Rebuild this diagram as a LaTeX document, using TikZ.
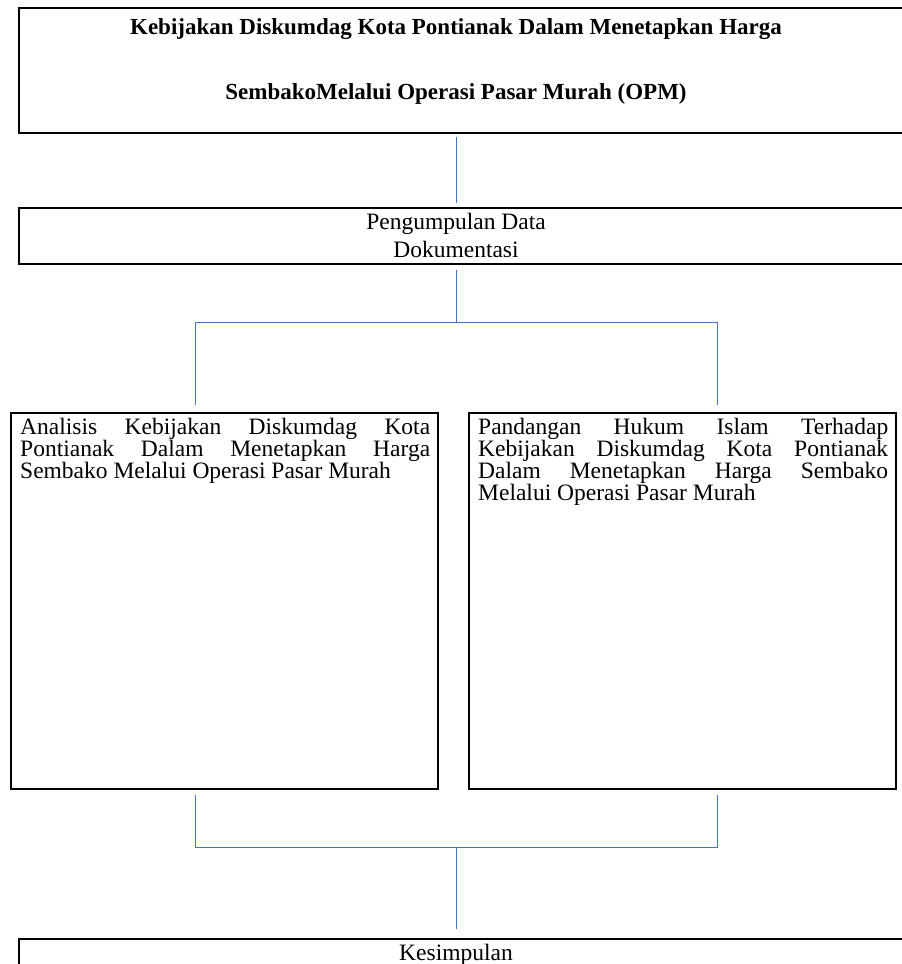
\documentclass[tikz,border=0pt]{standalone}
\usepackage{fontspec}
\setmainfont{Liberation Serif}
\usetikzlibrary{positioning}

\definecolor{linkblue}{RGB}{68,114,196}

\newcommand{\boxfont}{\fontsize{23.5}{28}\selectfont}
\newcommand{\titlefont}{\fontsize{23}{28}\selectfont\bfseries}
\newcommand{\panelfont}{\fontsize{23.5}{22}\selectfont}

\tikzset{
  frame/.style={draw, line width=1.7pt, inner sep=0pt, anchor=north west},
  caption/.style={anchor=base, inner sep=0pt, font=\boxfont},
  paneltext/.style={anchor=north west, inner sep=0pt, text width=410pt, align=justify, font=\panelfont},
  link/.style={draw=linkblue, line width=1pt},
}

\begin{document}
\begin{tikzpicture}[x=1pt,y=-1pt]
		\useasboundingbox (0,0) rectangle (902,964);
		\clip (0,0) rectangle (902,964);

		% kotak judul
		\node[frame, minimum width=892pt, minimum height=125pt] (judul) at (18,7) {};
		\node[caption, font=\titlefont] (judul-a) at (456,34) {Kebijakan Diskumdag Kota Pontianak Dalam Menetapkan Harga};
		\node[caption, font=\titlefont] (judul-b) at (456,99) {SembakoMelalui Operasi Pasar Murah (OPM)};

		% pengumpulan data
		\node[frame, minimum width=892pt, minimum height=56pt] (data) at (18,207) {};
		\node[caption] (data-a) at (456,229) {Pengumpulan Data};
		\node[caption] (data-b) at (456,257) {Dokumentasi};

		% dua kotak analisis
		\node[frame, minimum width=427pt, minimum height=376pt] (analisis) at (10,412) {};
		\node[frame, minimum width=427pt, minimum height=376pt] (pandangan) at (468,412) {};
		\node[paneltext] (analisis-teks) at (20,418) {Analisis Kebijakan Diskumdag Kota\linebreak Pontianak Dalam Menetapkan Harga\linebreak Sembako Melalui Operasi Pasar Murah};
		\node[paneltext] (pandangan-teks) at (478,418) {Pandangan Hukum Islam Terhadap\linebreak Kebijakan Diskumdag Kota Pontianak\linebreak Dalam Menetapkan Harga Sembako\linebreak Melalui Operasi Pasar Murah};

		% kesimpulan
		\node[frame, minimum width=892pt, minimum height=60pt] (kesimpulan) at (18,938) {};
		\node[caption] (kesimpulan-a) at (456,960) {Kesimpulan};

		\coordinate (pusat) at (456,0);
		\coordinate (cabangkiri) at (195,322);
		\coordinate (cabangkanan) at (717,322);
		\coordinate (gabungkiri) at (195,847);
		\coordinate (gabungkanan) at (717,847);

		\draw[link] ([yshift=-3pt]judul.south -| pusat) -- ([yshift=4pt]data.north -| pusat);
		\draw[link] ([yshift=-5pt]data.south -| pusat) -- (pusat |- cabangkiri);
		\draw[link] ([yshift=7pt]analisis.north -| cabangkiri) -- (cabangkiri) -- (cabangkanan) -- ([yshift=7pt]pandangan.north -| cabangkanan);
		\draw[link] ([yshift=-5pt]analisis.south -| gabungkiri) -- (gabungkiri) -- (gabungkanan) -- ([yshift=-5pt]pandangan.south -| gabungkanan);
		\draw[link] (pusat |- gabungkiri) -- ([yshift=9pt]kesimpulan.north -| pusat);
\end{tikzpicture}
\end{document}
